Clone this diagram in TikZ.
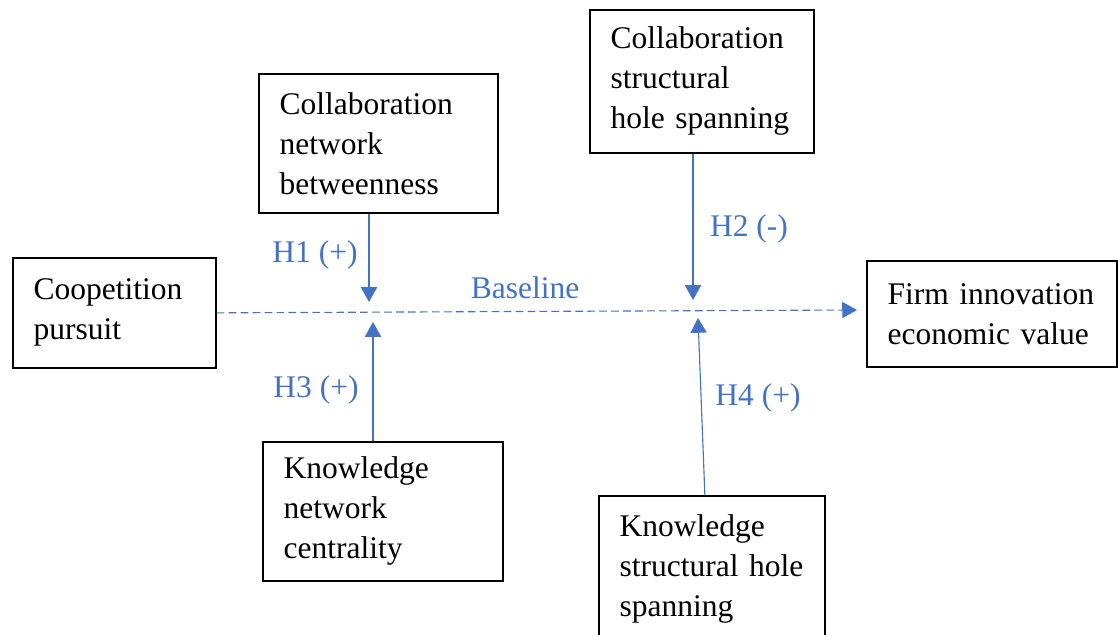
\documentclass[tikz,border=0pt]{standalone}
\usepackage{fontspec}
\setmainfont{Liberation Serif}
\usetikzlibrary{arrows.meta,positioning}
\definecolor{hblue}{HTML}{4472C4}

\begin{document}
\begin{tikzpicture}[x=0.025cm,y=-0.025cm,
    font=\fontsize{22.4}{28.4}\selectfont,
    box/.style={draw,line width=1.2pt,anchor=north west,inner xsep=0.52cm,align=left},
    hyp/.style={draw=hblue,line width=0.8pt,-{Triangle[length=10.5pt,width=11.5pt]}},
    hlab/.style={text=hblue}]
    \clip (0,0) rectangle (1118,635);
    \node[box,minimum width=5.075cm,minimum height=2.75cm,text width=4.035cm] (coop) at (12,257) {Coopetition\\pursuit};
    \node[box,minimum width=5.975cm,minimum height=3.475cm,text width=4.935cm] (collnet) at (258,73) {Collaboration\\network\\betweenness};
    \node[box,minimum width=5.6cm,minimum height=3.575cm,text width=4.56cm] (collsh) at (589,9) {Collaboration\\structural\\hole~spanning};
    \node[box,minimum width=6.25cm,minimum height=2.65cm,text width=5.21cm] (firm) at (866,260) {Firm~innovation\\economic~value};
    \node[box,minimum width=6cm,minimum height=3.475cm,text width=4.96cm] (knownet) at (262,441) {Knowledge\\network\\centrality};
    \node[box,minimum width=5.65cm,minimum height=3.65cm,text width=4.61cm] (knowsh) at (598,495) {Knowledge\\structural~hole\\spanning};
    % meeting points on the baseline
    \coordinate (h1) at (369,302);
    \coordinate (h3) at (373,322);
    \coordinate (h2) at (693,300);
    \coordinate (h4) at (698,318);
    \coordinate (out) at (857,310);
    \draw[hyp,dash pattern=on 5.5pt off 3pt] (coop.east) -- (out);
    \draw[hyp] (collnet.south -| h1) -- (h1);
    \draw[hyp] (knownet.north -| h3) -- (h3);
    \draw[hyp] (collsh.south -| h2) -- (h2);
    \draw[hyp] ([xshift=-0.175cm]knowsh.north) -- (h4);
    % labels
    \node[hlab] (base) at (525,288) {Baseline};
    \node[hlab] (l1) at (315,255) {H1 (+)};
    \node[hlab] (l3) at (316,390) {H3 (+)};
    \node[hlab] (l2) at (749,229) {H2 (-)};
    \node[hlab] (l4) at (758,398) {H4 (+)};
\end{tikzpicture}
\end{document}
